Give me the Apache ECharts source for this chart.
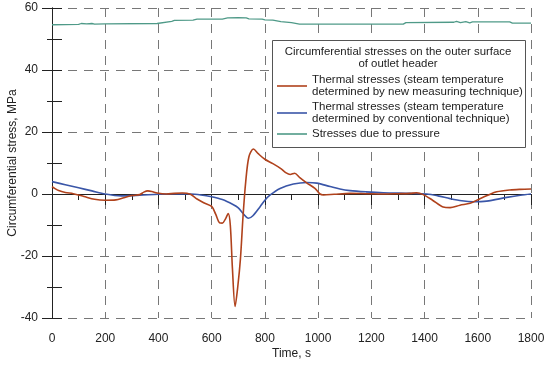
<!DOCTYPE html>
<html>
<head>
<meta charset="utf-8">
<script src="https://cdn.jsdelivr.net/npm/echarts@6/dist/echarts.min.js"></script>
<style>html,body{margin:0;padding:0;background:#fff}#c{width:550px;height:367px}</style>
</head>
<body>
<div id="c"></div>
<script>
// Time, s
var newTechT = [0,10,25,50,80,120,160,200,240,270,300,330,345,360,375,395,430,460,490,520,545,570,600,615,630,640,652,662,670,678,688,698,708,718,728,740,757,775,800,830,860,880,895,912,930,957,988,1007,1020,1060,1120,1180,1245,1300,1345,1370,1395,1430,1470,1496,1533,1571,1608,1640,1671,1721,1760,1800];
// Thermal stresses, new measuring technique, MPa
var newTechV = [2.4,1.8,1.1,0.5,0.1,-0.8,-1.7,-2.0,-1.9,-1.2,-0.5,-0.2,0.6,1.0,0.8,0.3,0.0,0.2,0.3,-0.1,-1.6,-2.8,-4.0,-6.5,-9.3,-9.4,-8.0,-6.3,-10,-24,-36.3,-30,-21,-7,4,12,14.5,13.0,11.2,9.8,8.2,6.8,6.3,6.7,5.4,3.6,1.8,0.0,-0.3,-0.1,0.2,0.1,0.0,0.1,0.2,0.4,-0.2,-2.0,-4.2,-4.4,-3.6,-3.0,-1.5,-0.3,0.7,1.3,1.5,1.6];

var convT = [0,50,100,150,200,260,330,400,460,520,560,600,640,680,700,720,738,755,782,800,820,857,907,957,995,1045,1082,1120,1180,1245,1345,1408,1450,1496,1540,1583,1633,1709,1760,1800];
// Thermal stresses, conventional technique, MPa
var convV = [4.0,3.0,2.0,1.0,0.0,-0.6,-0.4,-0.1,0.0,0.0,-0.3,-0.9,-1.8,-3.4,-4.5,-6.5,-7.8,-7.0,-4.1,-2.0,-0.3,1.8,3.2,3.7,3.5,2.4,1.6,1.1,0.7,0.4,0.2,0.0,-0.6,-1.5,-2.2,-2.5,-2.3,-1.1,-0.4,0.0];

var presT = [0,100,110,130,150,160,200,395,400,450,460,530,545,640,660,700,730,740,790,800,830,860,900,930,1320,1330,1510,1520,1535,1555,1570,1580,1720,1730,1800];
// Stresses due to pressure, MPa
var presV = [54.6,54.7,55.0,54.9,55.0,54.8,54.9,55.0,55.6,55.7,56.0,56.1,56.4,56.4,56.8,56.9,56.8,56.5,56.4,56.2,56.1,55.6,55.3,54.8,54.8,55.3,55.4,55.7,55.3,55.6,55.2,55.5,55.5,55.1,55.1];

var seriesNames = [
  'Thermal stresses (steam temperature\ndetermined by new measuring technique)',
  'Thermal stresses (steam temperature\ndetermined by conventional technique)',
  'Stresses due to pressure'
];
var legendTitle = 'Circumferential stresses on the outer surface\nof outlet header';
var xName = 'Time, s';
var yName = 'Circumferential stress, MPa';

function zip(a, b) { return a.map(function (t, i) { return [t, b[i]]; }); }
function plain(v) { return String(v); }

var FONT = 'Liberation Sans, Arial, sans-serif';
var chart = echarts.init(document.getElementById('c'), null, {renderer: 'canvas'});
var axisLine = {show: true, lineStyle: {color: '#222', width: 1}};
chart.setOption({
  animation: false,
  textStyle: {fontFamily: FONT},
  grid: {left: 52, right: 19, top: 8, bottom: 49, containLabel: false, outerBoundsMode: 'none'},
  xAxis: [{
    type: 'value', min: 0, max: 1800, interval: 200, position: 'bottom',
    name: xName, nameLocation: 'middle', nameGap: 30, nameMoveOverlap: false,
    nameTextStyle: {fontSize: 12, color: '#222', fontFamily: FONT},
    axisLine: axisLine,
    axisTick: {show: true, inside: false, length: 9, lineStyle: {color: '#222'}},
    minorTick: {show: true, splitNumber: 2, length: 5, lineStyle: {color: '#222'}},
    axisLabel: {fontSize: 12, color: '#222', margin: 15, fontFamily: FONT, formatter: plain},
    splitLine: {show: true, lineStyle: {color: '#777', type: [9, 7], width: 1}}
  }, {
    type: 'value', min: 0, max: 1800, interval: 200, position: 'top',
    axisLine: axisLine,
    axisTick: {show: true, inside: true, length: 11, lineStyle: {color: '#222'}},
    minorTick: {show: true, splitNumber: 2, length: 6, lineStyle: {color: '#222'}},
    axisLabel: {show: false},
    splitLine: {show: false}
  }],
  yAxis: [{
    type: 'value', min: -40, max: 60, interval: 20, position: 'left',
    name: yName, nameLocation: 'middle', nameGap: 33, nameMoveOverlap: false,
    nameTextStyle: {fontSize: 12, color: '#222', fontFamily: FONT},
    axisLine: axisLine,
    axisTick: {show: true, inside: false, length: 10, lineStyle: {color: '#222'}},
    minorTick: {show: true, splitNumber: 2, length: 5, lineStyle: {color: '#222'}},
    axisLabel: {fontSize: 12, color: '#222', margin: 14, fontFamily: FONT, formatter: plain},
    splitLine: {show: true, lineStyle: {color: '#777', type: [9, 7], width: 1}}
  }, {
    type: 'value', min: -40, max: 60, interval: 20, position: 'right',
    axisLine: axisLine,
    axisTick: {show: true, inside: false, length: 10, lineStyle: {color: '#222'}},
    minorTick: {show: true, splitNumber: 2, length: 10, lineStyle: {color: '#222'}},
    axisLabel: {show: false},
    splitLine: {show: false}
  }],
  graphic: [{
    type: 'rect', left: 272, top: 40, z: 90,
    shape: {width: 253, height: 107},
    style: {fill: '#fff', stroke: '#555', lineWidth: 1}
  }, {
    type: 'text', z: 100, x: 398, y: 46,
    style: {text: legendTitle, fill: '#222', font: '11.4px ' + FONT, textAlign: 'center', lineHeight: 12}
  }],
  legend: {
    orient: 'vertical', left: 277, top: 74, z: 100, padding: 0,
    icon: 'rect', itemWidth: 30, itemHeight: 1.6, itemGap: 3,
    textStyle: {fontSize: 11.5, color: '#222', lineHeight: 12, fontFamily: FONT},
    data: seriesNames
  },
  series: [{
    name: seriesNames[0], type: 'line', data: zip(newTechT, newTechV),
    symbol: 'none', smooth: 0.3, lineStyle: {color: '#b0421c', width: 1.6}, itemStyle: {color: '#b0421c'}, z: 5
  }, {
    name: seriesNames[1], type: 'line', data: zip(convT, convV),
    symbol: 'none', smooth: 0.3, lineStyle: {color: '#3a56a8', width: 1.6}, itemStyle: {color: '#3a56a8'}, z: 4
  }, {
    name: seriesNames[2], type: 'line', data: zip(presT, presV),
    symbol: 'none', smooth: false, lineStyle: {color: '#4f9a88', width: 1.3}, itemStyle: {color: '#4f9a88'}, z: 3
  }]
});
</script>
</body>
</html>
